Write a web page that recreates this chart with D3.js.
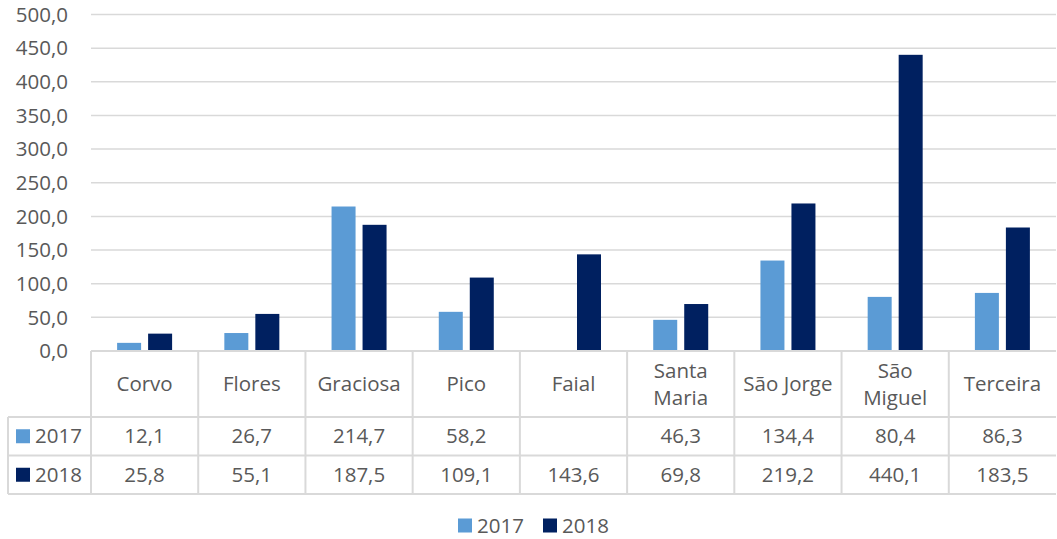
<!DOCTYPE html>
<html>
<head>
<meta charset="utf-8">
<script src="https://cdn.jsdelivr.net/npm/d3@7"></script>
<style>
  body { margin: 0; background: #fff; }
  text { font-family: "Open Sans", sans-serif; fill: #595959; }
</style>
</head>
<body>
<div id="chart"></div>
<script>
// Chart data
const islands = ["Corvo", "Flores", "Graciosa", "Pico", "Faial", "Santa Maria", "São Jorge", "São Miguel", "Terceira"];
const islandLines = [["Corvo"], ["Flores"], ["Graciosa"], ["Pico"], ["Faial"], ["Santa", "Maria"], ["São Jorge"], ["São", "Miguel"], ["Terceira"]];
const years = ["2017", "2018"];
const values2017 = [12.1, 26.7, 214.7, 58.2, null, 46.3, 134.4, 80.4, 86.3];
const values2018 = [25.8, 55.1, 187.5, 109.1, 143.6, 69.8, 219.2, 440.1, 183.5];
const yTicks = [0, 50, 100, 150, 200, 250, 300, 350, 400, 450, 500];

const colors = { "2017": "#5b9bd5", "2018": "#002060" };
const seriesValues = { "2017": values2017, "2018": values2018 };

const width = 1057;
const height = 539;
const gridColor = "#d9d9d9";
const fontSize = "20.5px";

// Portuguese number format: 1 decimal with comma
const locale = d3.formatLocale({ decimal: ",", thousands: ".", grouping: [3], currency: ["", " €"] });
const fmt = locale.format(".1f");

const svg = d3.select("#chart")
    .append("svg")
    .attr("width", width)
    .attr("height", height);

// Scales
const x = d3.scaleBand()
    .domain(islands)
    .range([91, 1056]);

const bw = x.bandwidth();
const x1 = d3.scaleBand()
    .domain(years)
    .range([bw / 2 - 27.5, bw / 2 + 27.5])
    .paddingInner(7 / 31);

const y = d3.scaleLinear()
    .domain([0, 500])
    .range([351, 14.5]);

// Gridlines
svg.append("g")
    .selectAll("line")
    .data(yTicks.filter(d => d > 0))
    .join("line")
    .attr("x1", 91)
    .attr("x2", 1056)
    .attr("y1", d => y(d))
    .attr("y2", d => y(d))
    .attr("stroke", gridColor)
    .attr("stroke-width", 1.5);

// Y axis labels
svg.append("g")
    .selectAll("text")
    .data(yTicks)
    .join("text")
    .attr("x", 68)
    .attr("y", d => y(d))
    .attr("dy", "0.35em")
    .attr("text-anchor", "end")
    .style("font-size", fontSize)
    .text(d => fmt(d));

// Bars
const groups = svg.append("g")
    .selectAll("g")
    .data(islands)
    .join("g")
    .attr("transform", d => `translate(${x(d)},0)`);

groups.selectAll("rect")
    .data((d, i) => years.map(yr => ({ year: yr, value: seriesValues[yr][i] })).filter(e => e.value != null))
    .join("rect")
    .attr("x", d => x1(d.year))
    .attr("width", x1.bandwidth())
    .attr("y", d => y(d.value))
    .attr("height", d => y(0) - y(d.value))
    .attr("fill", d => colors[d.year]);

// Data table
const rowTop = 351, headerBottom = 417, row1Bottom = 455.5, row2Bottom = 494;
const tableLeft = 8, tableRight = 1056;
const table = svg.append("g");

// horizontal lines
const hLines = [
    { y: rowTop, x1: 91, x2: tableRight },
    { y: headerBottom, x1: tableLeft, x2: tableRight },
    { y: row1Bottom, x1: tableLeft, x2: tableRight },
    { y: row2Bottom, x1: tableLeft, x2: tableRight }
];
table.selectAll("line.h")
    .data(hLines)
    .join("line")
    .attr("class", "h")
    .attr("x1", d => d.x1)
    .attr("x2", d => d.x2)
    .attr("y1", d => d.y)
    .attr("y2", d => d.y)
    .attr("stroke", gridColor)
    .attr("stroke-width", 2);

// vertical lines at column boundaries
table.selectAll("line.v")
    .data(islands)
    .join("line")
    .attr("class", "v")
    .attr("x1", d => x(d))
    .attr("x2", d => x(d))
    .attr("y1", rowTop)
    .attr("y2", row2Bottom)
    .attr("stroke", gridColor)
    .attr("stroke-width", 2);

table.append("line")
    .attr("x1", tableLeft).attr("x2", tableLeft)
    .attr("y1", headerBottom).attr("y2", row2Bottom)
    .attr("stroke", gridColor)
    .attr("stroke-width", 2);

// category labels
const headerMid = (rowTop + headerBottom) / 2;
table.selectAll("text.cat")
    .data(islands)
    .join("text")
    .attr("class", "cat")
    .attr("text-anchor", "middle")
    .style("font-size", fontSize)
    .each(function (d, i) {
        const lines = islandLines[i];
        const t = d3.select(this);
        lines.forEach((ln, j) => {
            t.append("tspan")
                .attr("x", x(d) + bw / 2)
                .attr("y", headerMid + (j - (lines.length - 1) / 2) * 27)
                .attr("dy", "0.35em")
                .text(ln);
        });
    });

// series rows
const rowMids = { "2017": (headerBottom + row1Bottom) / 2, "2018": (row1Bottom + row2Bottom) / 2 };
years.forEach(yr => {
    table.append("rect")
        .attr("x", 16)
        .attr("y", rowMids[yr] - 7)
        .attr("width", 14)
        .attr("height", 14)
        .attr("fill", colors[yr]);
    table.append("text")
        .attr("x", 35)
        .attr("y", rowMids[yr])
        .attr("dy", "0.35em")
        .style("font-size", fontSize)
        .text(yr);
    table.selectAll(null)
        .data(islands)
        .join("text")
        .attr("x", d => x(d) + bw / 2)
        .attr("y", rowMids[yr])
        .attr("dy", "0.35em")
        .attr("text-anchor", "middle")
        .style("font-size", fontSize)
        .text((d, i) => seriesValues[yr][i] == null ? "" : fmt(seriesValues[yr][i]));
});

// Legend
const legend = svg.append("g")
    .selectAll("g")
    .data(years)
    .join("g")
    .attr("transform", (d, i) => `translate(${458 + i * 85},525.5)`);

legend.append("rect")
    .attr("x", 0)
    .attr("y", -7)
    .attr("width", 14)
    .attr("height", 14)
    .attr("fill", d => colors[d]);

legend.append("text")
    .attr("x", 19)
    .attr("y", 0)
    .attr("dy", "0.35em")
    .style("font-size", fontSize)
    .text(d => d);
</script>
</body>
</html>
